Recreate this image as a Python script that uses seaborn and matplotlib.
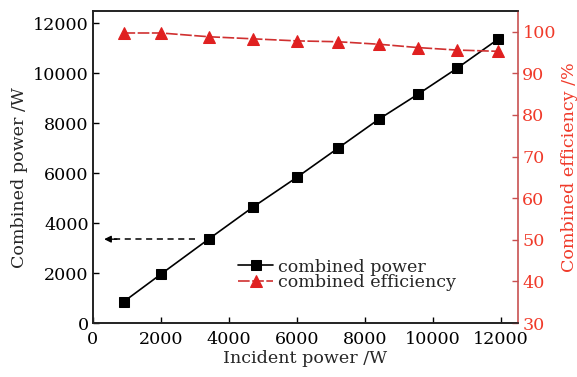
import matplotlib
matplotlib.use("Agg")
import matplotlib.pyplot as plt
import seaborn as sns
import pandas as pd

incident_power = [900, 2000, 3400, 4700, 6000, 7200, 8400, 9550, 10700, 11900]
combined_power = [850, 1960, 3360, 4640, 5840, 7000, 8160, 9160, 10200, 11360]
combined_eff = [99.7, 99.7, 98.8, 98.3, 97.8, 97.6, 97.0, 96.2, 95.6, 95.3]

df = pd.DataFrame({"incident": incident_power, "power": combined_power, "eff": combined_eff})

sns.set_theme(style="ticks")
plt.rcParams["font.family"] = ["DejaVu Serif"]
plt.rcParams["mathtext.fontset"] = "dejavuserif"

fig = plt.figure(figsize=(5.77, 3.77), dpi=100)
ax = fig.add_axes([0.161, 0.143, 0.737, 0.828])
ax2 = ax.twinx()

red_txt = "#f03a2a"
red_spine = "#c85050"
red_mark = "#e02020"

sns.lineplot(data=df, x="incident", y="power", ax=ax, color="black", marker="s",
             markersize=7, markeredgecolor="black", linewidth=1.2, label="combined power",
             legend=False)
sns.lineplot(data=df, x="incident", y="eff", ax=ax2, color="#d03030", marker="^",
             markersize=8, markerfacecolor=red_mark, markeredgecolor=red_mark,
             linewidth=1.2, linestyle=(0, (7, 1.5)), label="combined efficiency", legend=False)

ax.set_xlim(0, 12500)
ax.set_ylim(0, 12500)
ax2.set_ylim(30, 105)
ax.set_xticks([0, 2000, 4000, 6000, 8000, 10000, 12000])
ax.set_yticks([0, 2000, 4000, 6000, 8000, 10000, 12000])
ax2.set_yticks([30, 40, 50, 60, 70, 80, 90, 100])

fs = 12.6
ax.tick_params(direction="in", length=4, width=1, labelsize=fs, colors="black", pad=3)
ax.tick_params(axis="x", pad=6)
ax2.tick_params(direction="in", length=4, width=1, labelsize=fs, color=red_spine,
                labelcolor=red_txt, pad=3)
ax.set_xlabel("Incident power /W", fontsize=fs, labelpad=1)
ax.set_ylabel("Combined power /W", fontsize=fs)
ax.yaxis.set_label_coords(-0.152, 0.465)
ax2.set_ylabel("Combined efficiency /%", fontsize=fs, color=red_txt, labelpad=4)

for a in (ax, ax2):
    for s in a.spines.values():
        s.set_linewidth(1.2)
        s.set_color("#222222")
ax2.spines["right"].set_color(red_spine)
ax.spines["right"].set_visible(False)

# dashed arrow pointing to left axis
ax.plot([3000, 500], [3360, 3360], color="black", linestyle=(0, (4, 3)), linewidth=1.1)
ax.annotate("", xy=(330, 3360), xytext=(700, 3360),
            arrowprops=dict(arrowstyle="-|>", color="black", lw=1.0,
                            mutation_scale=10, shrinkA=0, shrinkB=0))

h1, l1 = ax.get_legend_handles_labels()
h2, l2 = ax2.get_legend_handles_labels()
leg = ax2.legend(h1 + h2, l1 + l2, loc="upper left", bbox_to_anchor=(0.325, 0.229),
                 frameon=False, fontsize=fs, handlelength=2.0, handletextpad=0.3,
                 labelspacing=-0.1, borderaxespad=0)

fig.savefig("out.png", dpi=100)
